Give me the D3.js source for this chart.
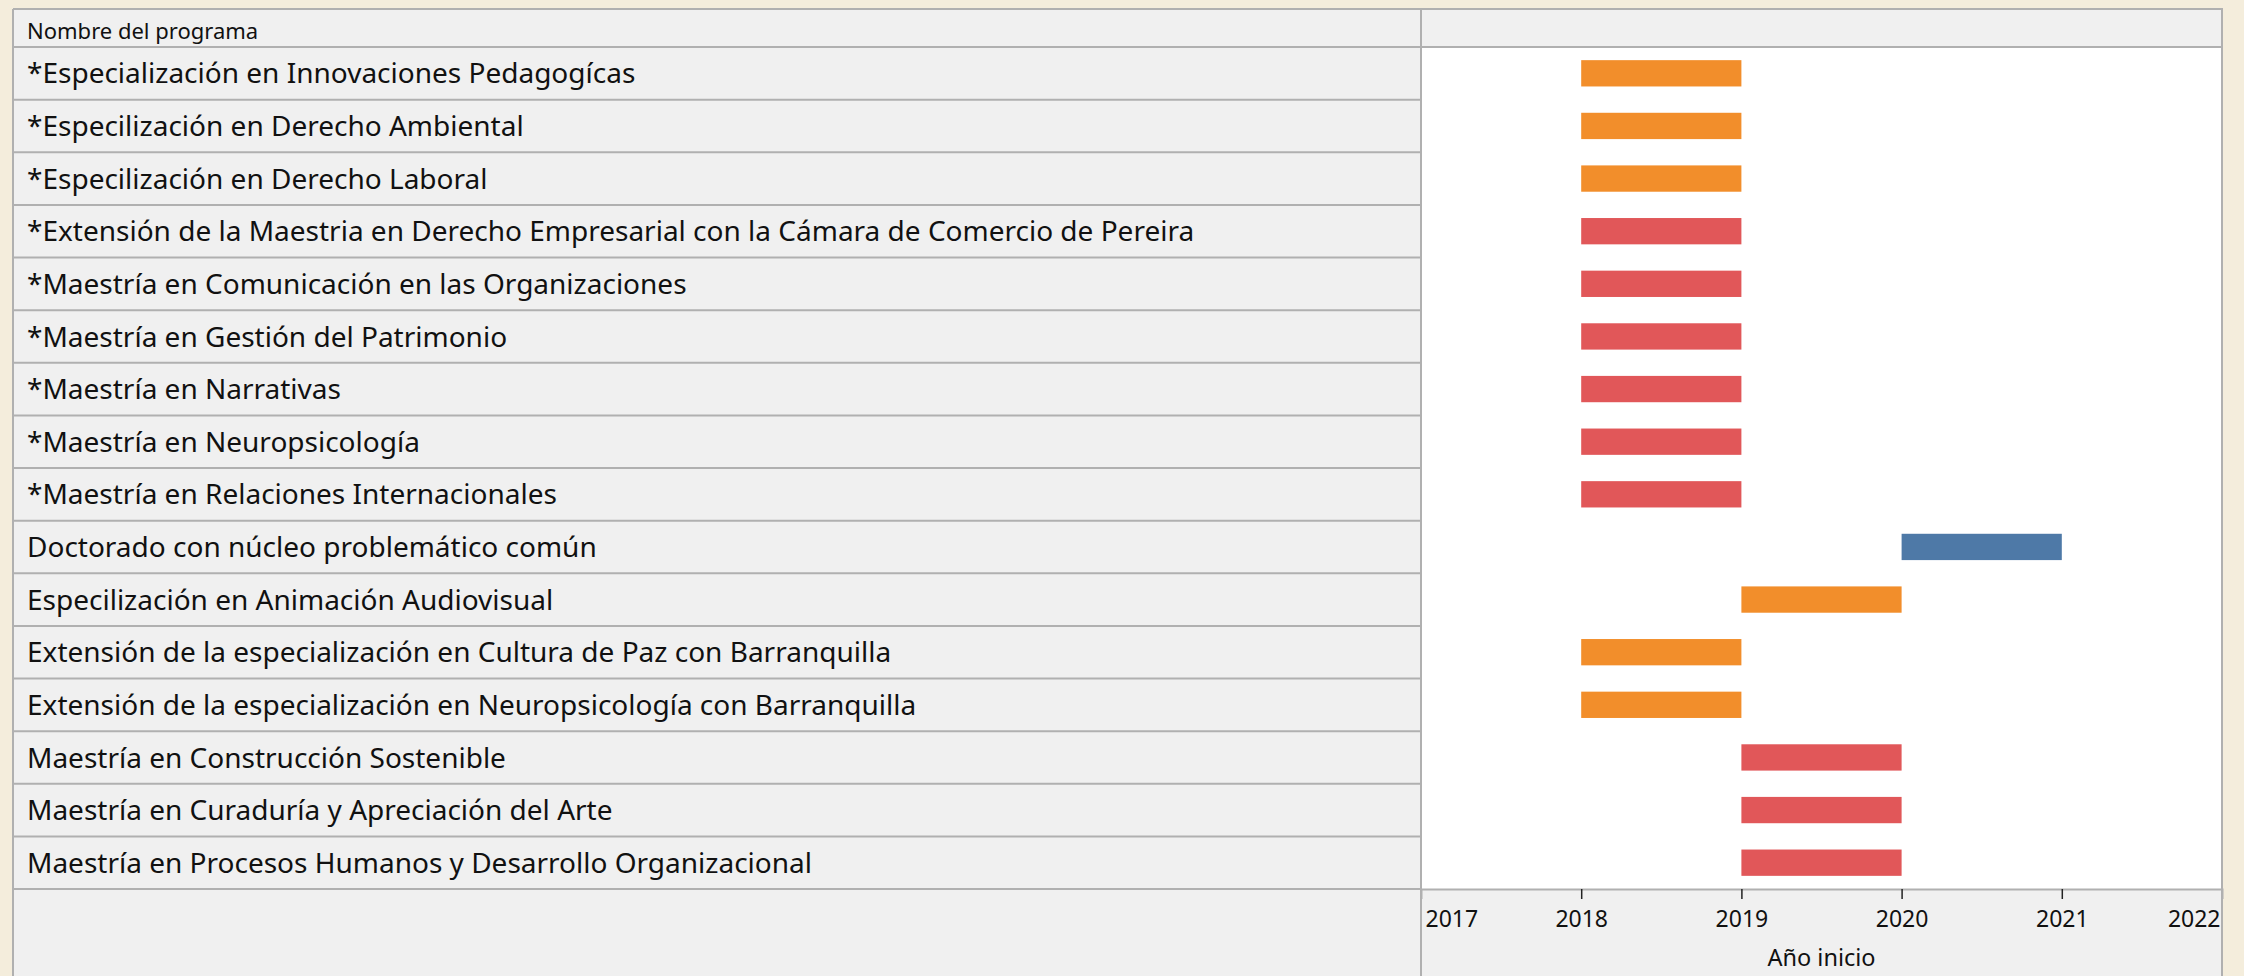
<!DOCTYPE html>
<html>
<head>
<meta charset="utf-8">
<script src="https://cdn.jsdelivr.net/npm/d3@7"></script>
<style>
  body { margin: 0; background: #f4eddc; }
  svg { display: block; }
  text { font-family: "Noto Sans", "Open Sans", sans-serif; fill: #111; }
</style>
</head>
<body>
<svg id="chart"></svg>
<script>
/* data */
var programs = [
    "*Especialización en Innovaciones Pedagogícas",
    "*Especilización en Derecho Ambiental",
    "*Especilización en Derecho Laboral",
    "*Extensión de la Maestria en Derecho Empresarial con la Cámara de Comercio de Pereira",
    "*Maestría en Comunicación en las Organizaciones",
    "*Maestría en Gestión del Patrimonio",
    "*Maestría en Narrativas",
    "*Maestría en Neuropsicología",
    "*Maestría en Relaciones Internacionales",
    "Doctorado con núcleo problemático común",
    "Especilización en Animación Audiovisual",
    "Extensión de la especialización en Cultura de Paz con Barranquilla",
    "Extensión de la especialización en Neuropsicología con Barranquilla",
    "Maestría en Construcción Sostenible",
    "Maestría en Curaduría y Apreciación del Arte",
    "Maestría en Procesos Humanos y Desarrollo Organizacional"
];
var startYears = [2018, 2018, 2018, 2018, 2018, 2018, 2018, 2018, 2018, 2020, 2019, 2018, 2018, 2019, 2019, 2019];
var levels = ["Especialización", "Especialización", "Especialización", "Maestría", "Maestría", "Maestría",
    "Maestría", "Maestría", "Maestría", "Doctorado", "Especialización", "Especialización",
    "Especialización", "Maestría", "Maestría", "Maestría"];
var levelNames = ["Especialización", "Maestría", "Doctorado"];
var levelColors = ["#f28e2b", "#e15759", "#4e79a7"];
var yearTicks = [2017, 2018, 2019, 2020, 2021, 2022];

var width = 2244;
var height = 976;
var leftX = 13, rightX = 2222, topY = 9;
var headerBottom = 47;
var rowsBottom = 889;
var divider = 1421;
var lineColor = "#b0b0b0";

var rows = programs.map(function(p, i){
    return { name: p, start: startYears[i], level: levels[i] };
});

var svg = d3.select("#chart").attr("width", width).attr("height", height);

var x = d3.scaleLinear().domain([2017, 2022]).range([divider, rightX]);
var y = d3.scaleBand().domain(programs).range([headerBottom, rowsBottom]).padding(0);
var color = d3.scaleOrdinal().domain(levelNames).range(levelColors);

/* table background */
svg.append("rect")
    .attr("x", leftX).attr("y", topY)
    .attr("width", rightX - leftX).attr("height", height - topY)
    .style("fill", "#f0f0f0");

/* plot area */
svg.append("rect")
    .attr("x", divider).attr("y", headerBottom)
    .attr("width", rightX - divider).attr("height", rowsBottom - headerBottom)
    .style("fill", "#ffffff");

/* row dividers on the label side */
svg.append("g").selectAll("line")
    .data(programs)
    .enter()
    .append("line")
    .attr("x1", leftX).attr("x2", divider)
    .attr("y1", function(d){ return y(d) + y.bandwidth(); })
    .attr("y2", function(d){ return y(d) + y.bandwidth(); })
    .attr("stroke", lineColor).attr("stroke-width", 2);

/* header lines */
[topY, headerBottom].forEach(function(yy){
    svg.append("line")
        .attr("x1", leftX).attr("x2", rightX + 1)
        .attr("y1", yy).attr("y2", yy)
        .attr("stroke", lineColor).attr("stroke-width", 2);
});

/* vertical borders */
[leftX, divider, rightX].forEach(function(xx){
    svg.append("line")
        .attr("x1", xx).attr("x2", xx)
        .attr("y1", topY).attr("y2", height)
        .attr("stroke", lineColor).attr("stroke-width", 2);
});

/* header title */
svg.append("text")
    .attr("x", 27).attr("y", 39)
    .attr("font-size", "22px")
    .text("Nombre del programa");

/* row labels */
svg.append("g").selectAll("text")
    .data(rows)
    .enter()
    .append("text")
    .attr("x", 27)
    .attr("y", function(d){ return y(d.name) + y.bandwidth() / 2; })
    .attr("dy", "0.36em")
    .attr("font-size", "28px")
    .text(function(d){ return d.name; });

/* bars */
var barH = y.bandwidth() * 0.5;
svg.append("g").selectAll("rect")
    .data(rows)
    .enter()
    .append("rect")
    .attr("x", function(d){ return x(d.start); })
    .attr("y", function(d){ return y(d.name) + (y.bandwidth() - barH) / 2; })
    .attr("width", function(d){ return x(d.start + 1) - x(d.start); })
    .attr("height", barH)
    .style("fill", function(d){ return color(d.level); });

/* x axis */
var axis = d3.axisBottom(x)
    .tickValues(yearTicks)
    .tickFormat(d3.format("d"))
    .tickSize(10)
    .tickPadding(12);

var gx = svg.append("g")
    .attr("transform", "translate(0," + rowsBottom + ")")
    .call(axis);
gx.select(".domain").attr("stroke", lineColor).attr("stroke-width", 2);
gx.selectAll(".tick line").attr("stroke", "#222").attr("stroke-width", 1.5);
gx.selectAll(".tick text")
    .attr("font-size", "23px")
    .attr("font-family", "'Noto Sans', sans-serif")
    .attr("fill", "#111")
    .attr("text-anchor", function(d, i){
        if(i === 0){ return "start"; }
        if(i === yearTicks.length - 1){ return "end"; }
        return "middle";
    })
    .attr("dx", function(d, i){
        if(i === 0){ return 4; }
        if(i === yearTicks.length - 1){ return -2; }
        return 0;
    });
gx.selectAll(".tick").filter(function(d, i){ return i === 0 || i === yearTicks.length - 1; })
    .select("line").remove();

svg.append("text")
    .attr("x", (divider + rightX) / 2)
    .attr("y", 966)
    .attr("text-anchor", "middle")
    .attr("font-size", "23.5px")
    .text("Año inicio");
</script>
</body>
</html>
